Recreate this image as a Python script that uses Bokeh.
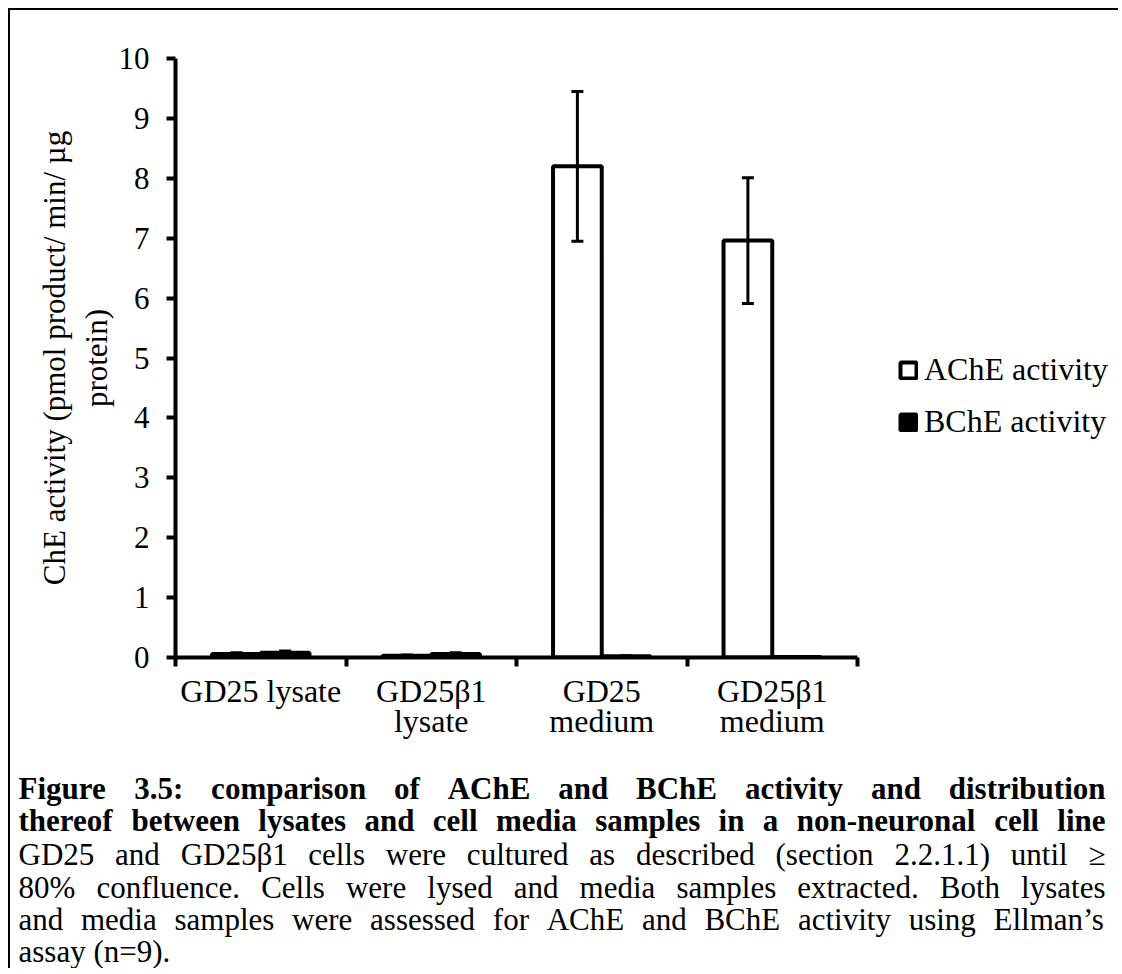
from bokeh.plotting import figure
from bokeh.models import (ColumnDataSource, Whisker, TeeHead, FixedTicker, Legend,
                          LegendItem, Range1d)
from bokeh.core.properties import value
from bokeh.embed import file_html
from bokeh.resources import INLINE

# ---------------- data ----------------
categories = ["GD25 lysate", "GD25\u03b21 lysate", "GD25 medium", "GD25\u03b21 medium"]
tick_labels = ["GD25 lysate", "GD25\u03b21\nlysate", "GD25\nmedium", "GD25\u03b21\nmedium"]
ache = [0.06, 0.03, 8.20, 6.96]
ache_err = [0.02, 0.01, 1.25, 1.05]
bche = [0.08, 0.06, 0.02, 0.01]
bche_err = [0.03, 0.02, 0.01, 0.005]
y_ticks = [0, 1, 2, 3, 4, 5, 6, 7, 8, 9, 10]
series_names = ["AChE activity", "BChE activity"]
y_label = "ChE activity (pmol product/ min/ \u00b5g\nprotein)"

caption_bold = [
    "Figure 3.5: comparison of AChE and BChE activity and distribution",
    "thereof between lysates and cell media samples in a non-neuronal cell line",
]
caption_text = [
    "GD25 and GD25\u03b21 cells were cultured as described (section 2.2.1.1) until \u2265",
    "80% confluence. Cells were lysed and media samples extracted. Both lysates",
    "and media samples were assessed for AChE and BChE activity using Ellman\u2019s",
    "assay (n=9).",
]

FONT = "Liberation Serif"

# ---------------- geometry (page px) ----------------
ORG_X, ORG_Y = 10, 10            # canvas origin (8px margin + 2px border)
W = 1110
H1, H2 = 752, 208
FR_L, FR_R, FR_T, FR_B = 175, 857, 58, 657     # axis extent on the page
n = len(categories)
bar_w = 1 / 3.5
centers = [i + 0.5 for i in range(n)]
bounds = list(range(n + 1))
# the frame runs to the right edge so the legend sits inside it; the axis is bounded
x_end = n * (ORG_X + W - FR_L) / (FR_R - FR_L)

p = figure(width=W, height=H1, x_range=Range1d(0, x_end), y_range=Range1d(0, 10),
           output_backend="svg", toolbar_location=None, title=None,
           min_border_left=FR_L - ORG_X, min_border_right=0,
           min_border_top=FR_T - ORG_Y, min_border_bottom=H1 - (FR_B - ORG_Y),
           styles={"border-left": "2px solid black", "border-top": "2px solid black",
                   "margin-left": "8px", "margin-top": "8px"})
p.outline_line_color = None
p.grid.visible = False
p.background_fill_color = "white"
p.border_fill_color = "white"

src = ColumnDataSource(dict(
    xa=[c - bar_w / 2 for c in centers],
    xb=[c + bar_w / 2 for c in centers],
    ache=ache, bche=bche,
    a_up=[v + e for v, e in zip(ache, ache_err)],
    a_lo=[v - e for v, e in zip(ache, ache_err)],
    b_up=[v + e for v, e in zip(bche, bche_err)],
    b_lo=[v - e for v, e in zip(bche, bche_err)],
))

r_a = p.vbar(x="xa", top="ache", bottom=0, width=bar_w, source=src,
             fill_color="white", line_color="black", line_width=4)
r_b = p.vbar(x="xb", top="bche", bottom=0, width=bar_w, source=src,
             fill_color="black", line_color="black", line_width=4)

for base, up, lo in (("xa", "a_up", "a_lo"), ("xb", "b_up", "b_lo")):
    p.add_layout(Whisker(base=base, upper=up, lower=lo, source=src, level="overlay",
                         line_color="black", line_width=3,
                         upper_head=TeeHead(size=12, line_width=3, line_color="black"),
                         lower_head=TeeHead(size=12, line_width=3, line_color="black")))

# ---------------- axes ----------------
xa = p.xaxis[0]
xa.bounds = (0, n)
xa.ticker = FixedTicker(ticks=centers, minor_ticks=bounds)
xa.major_label_overrides = {c: t for c, t in zip(centers, tick_labels)}
xa.major_tick_out = 0
xa.major_tick_in = 0
xa.minor_tick_out = 9
xa.minor_tick_in = 0
xa.minor_tick_line_width = 4
xa.minor_tick_line_color = "black"
xa.axis_line_width = 4
xa.axis_line_color = "black"
xa.major_label_standoff = 6
xa.major_label_text_font = FONT
xa.major_label_text_font_size = "32px"
xa.major_label_text_color = "black"
xa.major_label_text_line_height = 0.85

ya = p.yaxis[0]
ya.ticker = FixedTicker(ticks=y_ticks, minor_ticks=[])
ya.major_tick_out = 9
ya.major_tick_in = 0
ya.major_tick_line_width = 4
ya.major_tick_line_color = "black"
ya.minor_tick_out = 0
ya.minor_tick_in = 0
ya.axis_line_width = 4
ya.axis_line_color = "black"
ya.major_label_standoff = 17
ya.major_label_text_font = FONT
ya.major_label_text_font_size = "31px"
ya.major_label_text_color = "black"
ya.axis_label = y_label
ya.axis_label_text_font = FONT
ya.axis_label_text_font_size = "31px"
ya.axis_label_text_font_style = "normal"
ya.axis_label_text_color = "black"
ya.axis_label_standoff = 2

# ---------------- legend (inside the widened frame) ----------------
legend = Legend(items=[LegendItem(label=series_names[0], renderers=[r_a]),
                       LegendItem(label=series_names[1], renderers=[r_b])],
                location=(723, 217), orientation="vertical",
                border_line_color=None, background_fill_alpha=0,
                padding=0, margin=0, spacing=15,
                glyph_width=20, glyph_height=20, label_standoff=6,
                label_text_font=FONT, label_text_font_size="32px",
                label_text_color="black")
p.add_layout(legend)

# ---------------- caption figure (justified like the source) ----------------
REG = {' ': 250, '(': 333, ')': 333, ',': 250, '-': 333, '.': 250, '/': 278, ':': 278,
       '=': 564, '%': 833, '\u2265': 549, '\u2019': 333, '\u03b2': 500}
BOLD = {' ': 250, '.': 250, ':': 333, '-': 333, ',': 250}
for d in "0123456789":
    REG[d] = 500
    BOLD[d] = 500
for tok in ("A722 B667 C667 D722 E611 F556 G722 H722 I333 J389 K722 L611 M889 N722 O722 "
            "P556 Q722 R667 S556 T611 U722 V722 W944 X722 Y722 Z611 a444 b500 c444 d500 "
            "e444 f333 g500 h500 i278 j278 k500 l278 m778 n500 o500 p500 q500 r333 s389 "
            "t278 u500 v500 w722 x500 y500 z444").split():
    REG[tok[0]] = int(tok[1:])
for tok in ("A722 B667 C722 D722 E667 F611 G778 H778 I389 J500 K778 L667 M944 N722 O778 "
            "P611 Q778 R722 S556 T667 U722 V722 W1000 X722 Y722 Z667 a500 b556 c444 d556 "
            "e444 f333 g500 h556 i278 j333 k556 l278 m833 n556 o500 p556 q556 r444 s389 "
            "t333 u556 v500 w722 x500 y500 z444").split():
    BOLD[tok[0]] = int(tok[1:])

CAP_FS = 31
CAP_L, CAP_R = 18, 1105
line_y = [790, 822, 856, 889, 921, 953]


def word_w(word, table):
    return sum(table.get(ch, 500) for ch in word) / 1000 * CAP_FS


def layout_line(text, table, justify, py, out):
    words = text.split(" ")
    ws = [word_w(w, table) for w in words]
    if justify and len(words) > 1:
        gap = (CAP_R - CAP_L - sum(ws)) / (len(words) - 1)
    else:
        gap = table[' '] / 1000 * CAP_FS
    x = CAP_L
    for w, ww in zip(words, ws):
        out["x"].append(x)
        out["y"].append(py)
        out["t"].append(w)
        x += ww + gap


bold_words = dict(x=[], y=[], t=[])
reg_words = dict(x=[], y=[], t=[])
for i, line in enumerate(caption_bold):
    layout_line(line, BOLD, True, line_y[i], bold_words)
for j, line in enumerate(caption_text):
    layout_line(line, REG, j < len(caption_text) - 1, line_y[len(caption_bold) + j], reg_words)

cap_top = ORG_Y + H1
cap = figure(width=W, height=H2, x_range=Range1d(ORG_X, ORG_X + W),
             y_range=Range1d(cap_top + H2, cap_top),
             output_backend="svg", toolbar_location=None, title=None,
             x_axis_location=None, y_axis_location=None, min_border=0,
             styles={"border-left": "2px solid black", "margin-left": "8px"})
cap.outline_line_color = None
cap.grid.visible = False
cap.text(x="x", y="y", text="t", source=ColumnDataSource(bold_words),
         text_font=value(FONT), text_font_size=f"{CAP_FS}px", text_font_style="bold",
         text_color="black", text_baseline="middle", text_align="left")
cap.text(x="x", y="y", text="t", source=ColumnDataSource(reg_words),
         text_font=value(FONT), text_font_size=f"{CAP_FS}px",
         text_color="black", text_baseline="middle", text_align="left")

open("out.html", "w").write(file_html([p, cap], INLINE))
